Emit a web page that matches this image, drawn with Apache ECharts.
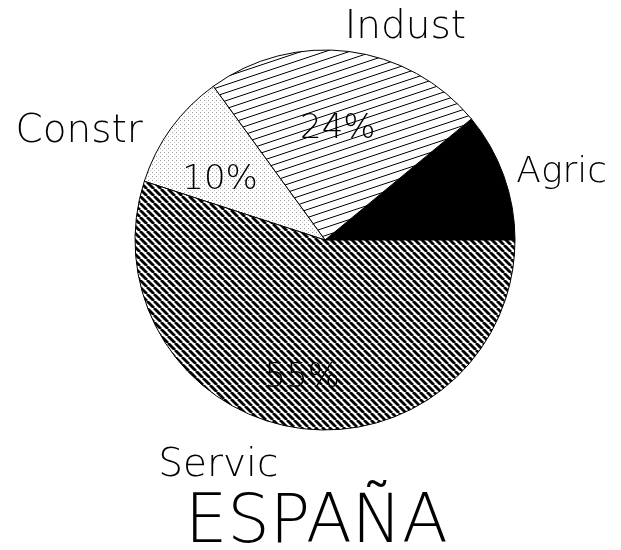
<!DOCTYPE html>
<html>
<head>
<meta charset="utf-8">
<script src="https://cdn.jsdelivr.net/npm/echarts@6/dist/echarts.min.js"></script>
<style>
  html, body { margin: 0; padding: 0; background: #fff; }
  #main { width: 621px; height: 550px; }
</style>
</head>
<body>
<div id="main"></div>
<script>
// sector data
const sectors = ['Agric', 'Indust', 'Constr', 'Servic']
const shares = [11, 24, 10, 55]
const titleText = 'ESPAÑA'

const FONT = '"DejaVu Sans", sans-serif'

function makeTile(w, h, draw) {
  const c = document.createElement('canvas')
  c.width = w
  c.height = h
  const ctx = c.getContext('2d')
  ctx.fillStyle = '#fff'
  ctx.fillRect(0, 0, w, h)
  draw(ctx, w, h)
  return c
}

// horizontal-ish rising lines
const hatchIndust = makeTile(24, 8, function(ctx, w, h) {
  ctx.strokeStyle = '#000'
  ctx.lineWidth = 1
  for (let k = -1; k <= 1; k++) {
    ctx.beginPath()
    ctx.moveTo(-w, h * 2 + k * h)
    ctx.lineTo(2 * w, -h + k * h)
    ctx.stroke()
  }
})

// dense "\" stripes
const hatchServic = makeTile(7, 7, function(ctx, w, h) {
  ctx.strokeStyle = '#000'
  ctx.lineWidth = 2.8
  for (let k = -2; k <= 2; k++) {
    ctx.beginPath()
    ctx.moveTo(k * w, 0)
    ctx.lineTo(k * w + w, h)
    ctx.stroke()
  }
})

// light dots
const dotsConstr = makeTile(4, 4, function(ctx) {
  ctx.fillStyle = '#9a9a9a'
  ctx.fillRect(0, 0, 1, 1)
  ctx.fillStyle = '#c8c8c8'
  ctx.fillRect(2, 2, 1, 1)
})

const fills = [
  '#000',
  { image: hatchIndust, repeat: 'repeat' },
  { image: dotsConstr, repeat: 'repeat' },
  { image: hatchServic, repeat: 'repeat' }
]

// per-slice tweaks of the outer name labels
const nameLabels = [
  { label: { fontSize: 36 }, labelLine: { length: 8 } },
  { label: { offset: [-12, 0] }, labelLine: { length: 24 } },
  { label: { offset: [-4, 18] }, labelLine: { length: 24 } },
  { label: { offset: [-6, 1] }, labelLine: { length: 38 } }
]

const pieData = sectors.map((name, i) => ({
  name: name,
  value: shares[i],
  itemStyle: { color: fills[i] },
  label: nameLabels[i].label,
  labelLine: nameLabels[i].labelLine
}))

const labelData = sectors.map((name, i) => ({ name: name, value: shares[i] }))

const chart = echarts.init(document.getElementById('main'))
chart.setOption({
  animation: false,
  backgroundColor: '#fff',
  title: {
    text: titleText,
    left: 180,
    top: 486,
    textStyle: {
      fontFamily: FONT,
      fontWeight: 200,
      fontSize: 67,
      color: '#000'
    }
  },
  series: [
    {
      type: 'pie',
      center: [325, 240],
      radius: 190,
      startAngle: 0,
      clockwise: false,
      avoidLabelOverlap: false,
      data: pieData,
      itemStyle: { borderColor: '#000', borderWidth: 1 },
      label: {
        show: true,
        position: 'outside',
        formatter: '{b}',
        fontFamily: FONT,
        fontWeight: 200,
        fontSize: 39,
        color: '#000'
      },
      labelLine: { show: false, length: 24, length2: 0 },
      emphasis: { disabled: true }
    },
    {
      type: 'pie',
      silent: true,
      center: [325, 240],
      radius: [56, 190],
      startAngle: 0,
      clockwise: false,
      data: labelData,
      itemStyle: { color: 'rgba(0,0,0,0)' },
      label: {
        show: true,
        position: 'inside',
        formatter: '{c}%',
        fontFamily: FONT,
        fontWeight: 200,
        fontSize: 34,
        color: '#000',
        offset: [-3, 14]
      },
      labelLine: { show: false },
      emphasis: { disabled: true }
    }
  ]
})
</script>
</body>
</html>
